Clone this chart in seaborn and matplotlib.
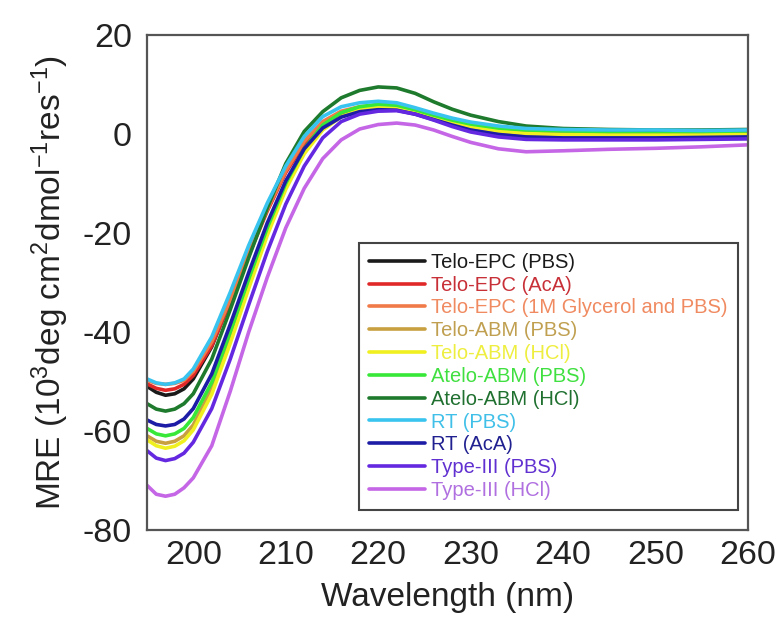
import matplotlib
matplotlib.use("Agg")
import matplotlib.pyplot as plt
import seaborn as sns
import pandas as pd

wavelength = [195, 196, 197, 198, 199, 200, 202, 204, 206, 208, 210, 212, 214, 216,
              218, 220, 222, 224, 226, 228, 230, 233, 236, 240, 245, 250, 255, 260]

telo_epc_pbs = [-51, -52.2, -52.8, -52.5, -51.5, -49.5, -43, -33.5, -23.5, -14.5, -7, -1.5, 2, 4,
                5, 5.4, 5.2, 4.3, 3.2, 2.2, 1.3, 0.5, 0, -0.2, -0.3, -0.3, -0.4, -0.3]
telo_epc_aca = [-50.5, -51.4, -51.8, -51.5, -50.6, -48.8, -42.8, -34, -24.5, -15.6, -7.8, -2, 1.8, 3.9,
                4.8, 5.1, 4.9, 4.1, 3, 2, 1.1, 0.3, -0.2, -0.4, -0.5, -0.5, -0.5, -0.4]
telo_epc_gly = [-49.8, -50.4, -50.6, -50.4, -49.8, -48, -42, -33.5, -24, -15.3, -7.5, -1.5, 2.5, 4.6,
                5.5, 5.8, 5.6, 4.7, 3.6, 2.6, 1.8, 1, 0.5, 0.3, 0.2, 0.2, 0.2, 0.3]
telo_abm_pbs = [-61, -62.1, -62.5, -62.1, -61, -58.8, -51.5, -41.2, -30.2, -19.7, -10.6, -3.6, 1, 3.5,
                4.8, 5.3, 5.2, 4.4, 3.3, 2.2, 1.3, 0.4, -0.1, -0.3, -0.4, -0.4, -0.4, -0.3]
telo_abm_hcl = [-61.8, -63, -63.5, -63.1, -62, -59.8, -52.6, -42.3, -31.2, -20.5, -11.2, -4, 0.8, 3.5,
                4.9, 5.5, 5.4, 4.6, 3.5, 2.4, 1.5, 0.6, 0.1, -0.1, -0.2, -0.2, -0.2, -0.1]
atelo_abm_pbs = [-59.5, -60.6, -61, -60.6, -59.5, -57.3, -50.2, -40, -29.3, -19, -10, -3, 1.8, 4.3,
                 5.5, 6, 5.8, 4.9, 3.8, 2.8, 2, 1.2, 0.8, 0.6, 0.5, 0.5, 0.5, 0.6]
atelo_abm_hcl = [-54.5, -55.6, -56, -55.6, -54.5, -52.5, -45.5, -35.5, -25, -15, -6, 0.5, 4.5, 7.3,
                 8.8, 9.5, 9.3, 8.2, 6.5, 5, 3.8, 2.5, 1.6, 1.1, 0.9, 0.8, 0.8, 0.9]
rt_pbs = [-49.5, -50.3, -50.6, -50.3, -49.5, -47.5, -41, -32, -22.5, -14, -6.5, -0.5, 3.5, 5.5,
          6.3, 6.6, 6.3, 5.3, 4.2, 3.2, 2.4, 1.6, 1.1, 0.9, 0.8, 0.8, 0.7, 0.8]
rt_aca = [-57.8, -58.7, -59, -58.7, -57.6, -55.5, -48.5, -38.5, -28, -18, -9.5, -3, 1.2, 3.4,
          4.5, 4.9, 4.8, 4, 2.9, 1.8, 0.8, -0.1, -0.6, -0.8, -0.8, -0.8, -0.7, -0.6]
type3_pbs = [-64, -65.5, -66, -65.6, -64.5, -62.3, -55.5, -45.5, -34.5, -23.8, -14.2, -6.5, -0.8, 2.5,
             4, 4.6, 4.7, 4, 2.8, 1.5, 0.4, -0.6, -1.1, -1.2, -1.2, -1.2, -1.1, -1]
type3_hcl = [-71, -72.8, -73.2, -72.8, -71.5, -69.5, -63, -52, -40, -29, -19, -11, -5, -1.2,
             1, 1.9, 2.2, 1.8, 0.8, -0.5, -1.7, -3, -3.6, -3.4, -3.1, -2.9, -2.6, -2.2]

labels = ["Telo-EPC (PBS)", "Telo-EPC (AcA)", "Telo-EPC (1M Glycerol and PBS)",
          "Telo-ABM (PBS)", "Telo-ABM (HCl)", "Atelo-ABM (PBS)", "Atelo-ABM (HCl)",
          "RT (PBS)", "RT (AcA)", "Type-III (PBS)", "Type-III (HCl)"]
series = [telo_epc_pbs, telo_epc_aca, telo_epc_gly, telo_abm_pbs, telo_abm_hcl,
          atelo_abm_pbs, atelo_abm_hcl, rt_pbs, rt_aca, type3_pbs, type3_hcl]
line_colors = ["#1a1a1a", "#e02828", "#f07a48", "#c8a040", "#f0f020", "#38e838",
               "#1e7a2c", "#38c4ee", "#1c1ca6", "#6428e0", "#c466e6"]
text_colors = ["#1a1a1a", "#c83038", "#f08a60", "#c0a050", "#eeee40", "#40e040",
               "#207030", "#40c0e8", "#202090", "#6030d0", "#b070e0"]

rows = []
for lab, vals in zip(labels, series):
    for w, v in zip(wavelength, vals):
        rows.append({"Wavelength": w, "MRE": v, "Sample": lab})
df = pd.DataFrame(rows)

sns.set_theme(style="white")
plt.rcParams["font.family"] = ["Liberation Sans", "DejaVu Sans"]
plt.rcParams["axes.unicode_minus"] = False
plt.rcParams["mathtext.fontset"] = "custom"
plt.rcParams["mathtext.rm"] = "Liberation Sans"
plt.rcParams["mathtext.it"] = "Liberation Sans"
plt.rcParams["mathtext.default"] = "regular"

fig = plt.figure(figsize=(7.8, 6.19), dpi=100)
ax = fig.add_axes([0.1885, 0.144, 0.7705, 0.7995])

sns.lineplot(data=df, x="Wavelength", y="MRE", hue="Sample", hue_order=labels,
             palette=dict(zip(labels, line_colors)), linewidth=2.6, ax=ax, legend=True)

ax.set_xlim(195, 260)
ax.set_ylim(-80, 20)
ax.set_xticks([200, 210, 220, 230, 240, 250, 260])
ax.set_yticks([-80, -60, -40, -20, 0, 20])
ax.tick_params(axis="both", length=0, labelsize=24.5, colors="#222222")
ax.tick_params(axis="x", pad=7)
ax.tick_params(axis="y", pad=11)
for sp in ax.spines.values():
    sp.set_color("#555555")
    sp.set_linewidth(1.6)
    sp.set_visible(True)

ax.set_xlabel("Wavelength (nm)", fontsize=24, color="#222222", labelpad=8)
ax.set_ylabel(r"MRE (10$^{3}$deg cm$^{2}$dmol$^{-1}$res$^{-1}$)", fontsize=24,
              color="#222222", labelpad=8)

handles, _ = ax.get_legend_handles_labels()
leg = ax.legend(handles=handles, labels=labels, loc="lower right",
                bbox_to_anchor=(0.983, 0.04), fontsize=14.5, frameon=True,
                fancybox=False, edgecolor="#444444", framealpha=1,
                handlelength=2.8, handletextpad=0.3, labelspacing=0.19,
                borderpad=0.5, borderaxespad=0)
leg.get_frame().set_linewidth(1.5)
for t, c in zip(leg.get_texts(), text_colors):
    t.set_color(c)
for h in leg.get_lines():
    h.set_linewidth(2.6)

fig.savefig("out.png", dpi=100)
